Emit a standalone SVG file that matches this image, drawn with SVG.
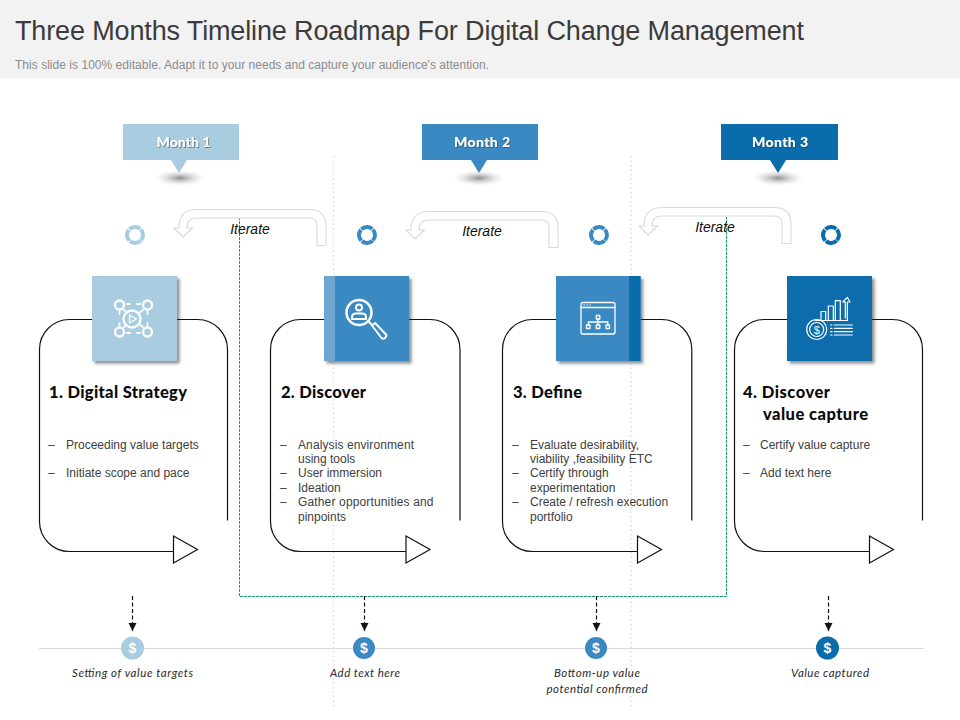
<svg xmlns="http://www.w3.org/2000/svg" width="960" height="720" viewBox="0 0 960 720">
<style>
.sans{font-family:"Liberation Sans",Arial,sans-serif}
.geo{font-family:Lato,"Open Sans",sans-serif}
.title{font-size:27px;fill:#3b3b3b}
.sub{font-size:12px;fill:#8c8c8c}
.month{font-size:14px;font-weight:900;fill:#fff;text-anchor:middle;filter:url(#ts)}
.iter{font-size:14px;font-style:italic;fill:#111;text-anchor:middle}
.card{fill:none;stroke:#111;stroke-width:1.2}
.tri{fill:#fff;stroke:#111;stroke-width:1.2}
.head{font-size:16.5px;font-weight:900;fill:#0b0b0b}
.body{font-size:12px;fill:#404040}
.cap{font-size:11.5px;font-style:italic;font-weight:400;fill:#2a2a2a;text-anchor:middle}
.dollar{font-size:14px;font-weight:700;fill:#fff;text-anchor:middle}
.ico{fill:none;stroke:#fff;stroke-linecap:round;stroke-linejoin:round}
.guide{stroke:#dcdcdc;stroke-width:1.4;stroke-dasharray:1.5 3;fill:none}
.iterarrow{fill:#fff;stroke:#d9d9d9;stroke-width:1.1}
.ring{fill:none;stroke-width:4;stroke-dasharray:11.700 .87}
.dash{stroke:#111;stroke-width:1.2;stroke-dasharray:4 2.5;marker-end:url(#ah);fill:none}
</style>
<defs>
<radialGradient id="sh"><stop offset="0" stop-color="#8f8f8f"/><stop offset="0.3" stop-color="#b0b0b0" stop-opacity=".8"/><stop offset="0.65" stop-color="#d0d0d0" stop-opacity=".45"/><stop offset="1" stop-color="#e8e8e8" stop-opacity="0"/></radialGradient>
<filter id="ts" x="-20%" y="-30%" width="140%" height="170%"><feDropShadow dx="0.8" dy="0.8" stdDeviation="0.6" flood-color="#333" flood-opacity=".65"/></filter>
<filter id="tileShadow" x="-10%" y="-10%" width="125%" height="125%"><feDropShadow dx="2.500" dy="2.500" stdDeviation="1.600" flood-color="#333" flood-opacity=".55"/></filter>
<marker id="ah" markerUnits="userSpaceOnUse" markerWidth="9" markerHeight="9" refX="8" refY="4" orient="auto"><path d="M0,0L8,4L0,8Z" fill="#111"/></marker>
<path id="iterShape" d="M326,245.500H317V226Q317,218 309,218H197Q187,218 187,228H192.500L183,237L174,228H179Q179,209.500 197,209.500H309Q326,209.500 326,226Z"/>
</defs>
<rect width="960" height="720" fill="#fff"/>
<g id="header">
<rect width="960" height="78" fill="#f2f2f2"/>
<text class="sans title" x="15" y="40" textLength="789" lengthAdjust="spacing">Three Months Timeline Roadmap For Digital Change Management</text>
<text class="sans sub" x="15" y="68.500" textLength="474" lengthAdjust="spacing">This slide is 100% editable. Adapt it to your needs and capture your audience's attention.</text>
</g>
<g id="guides">
<path class="guide" d="M333.500,156V708M631,156V708"/>
<path fill="none" stroke="#1f9a6a" stroke-width="1" stroke-dasharray="3 1" d="M239.500,217V596.500H726.500V217"/>
</g>
<g id="month-1">
<ellipse cx="180" cy="178" rx="26" ry="8" fill="url(#sh)"/>
<path d="M123,124H239V160H187L179,173L171,160H123Z" fill="#a9cce0"/>
<text class="geo month" x="183.500" y="147" textLength="54" lengthAdjust="spacing">Month 1</text>
</g>
<g id="month-2">
<ellipse cx="479" cy="178" rx="26" ry="8" fill="url(#sh)"/>
<path d="M422,124H538V160H487L479,173L471,160H422Z" fill="#3a89c2"/>
<text class="geo month" x="482" y="147" textLength="56" lengthAdjust="spacing">Month 2</text>
</g>
<g id="month-3">
<ellipse cx="778" cy="178" rx="26" ry="8" fill="url(#sh)"/>
<path d="M721,124H838V160H786L778,173L770,160H721Z" fill="#0a6cab"/>
<text class="geo month" x="780" y="147" textLength="56" lengthAdjust="spacing">Month 3</text>
</g>
<g id="rings">
<circle class="ring" cx="135" cy="235" r="8" stroke="#a9cce0" transform="rotate(45 135 235)"/>
<circle class="ring" cx="367" cy="235" r="8" stroke="#3a89c2" transform="rotate(45 367 235)"/>
<circle class="ring" cx="599" cy="235" r="8" stroke="#3a89c2" transform="rotate(45 599 235)"/>
<circle class="ring" cx="831" cy="235" r="8" stroke="#0a6cab" transform="rotate(45 831 235)"/>
</g>
<g id="connectors">
<use href="#iterShape" class="iterarrow"/>
<use href="#iterShape" class="iterarrow" x="232" y="2"/>
<use href="#iterShape" class="iterarrow" x="465" y="-2"/>
<path class="dash" d="M132.500,596V631"/>
<path class="dash" d="M364.500,596V631"/>
<path class="dash" d="M596.500,596V631"/>
<path class="dash" d="M828.500,596V631"/>
</g>
<g id="iterate-labels">
<text class="sans iter" x="250" y="234">Iterate</text>
<text class="sans iter" x="482" y="236">Iterate</text>
<text class="sans iter" x="715" y="232">Iterate</text>
</g>
<g id="card-1">
<path class="card" d="M227.500,520.500V349.500A30,30 0 0 0 197.500,319.500H69.500A30,30 0 0 0 39.500,349.500V521.500A30,30 0 0 0 69.500,551.500H174"/>
<path class="tri" d="M173.500,536L197.500,549.500L173.500,563Z"/>
<rect x="92" y="276" width="85" height="85" fill="#a9cce0" filter="url(#tileShadow)"/>
<g class="ico" stroke-width="2.300">
<circle cx="132" cy="319" r="8.500"/><path d="M129.500,315L136.500,319L129.500,323Z" stroke-width="1.300"/>
<circle cx="119.500" cy="305" r="4.500"/><circle cx="147.500" cy="305" r="4.500"/><circle cx="119.500" cy="332" r="4.500"/><circle cx="147.500" cy="332" r="4.500"/>
<path d="M127,304H130M137,304H140M127,333H130M137,333H140M119.500,311V314M147.500,311V314M119.500,323V326M147.500,323V326M124,310L126,312M143,310L139,313M124,327L126,325M143,327L139,324" stroke-width="1.800"/>
</g>
<text class="geo head" x="49" y="398" textLength="138" lengthAdjust="spacing">1. Digital Strategy</text>
<text class="sans body" x="48" y="449">–</text><text class="sans body" x="66" y="449">Proceeding value targets</text>
<text class="sans body" x="48" y="477">–</text><text class="sans body" x="66" y="477">Initiate scope and pace</text>
</g>
<g id="card-2">
<path class="card" d="M460,520.500V349.500A30,30 0 0 0 430,319.500H300.500A30,30 0 0 0 270.500,349.500V521.500A30,30 0 0 0 300.500,551.500H406"/>
<path class="tri" d="M406,536L430,549.500L406,563Z"/>
<rect x="324" y="276" width="85" height="85" fill="#3a89c2" filter="url(#tileShadow)"/>
<rect x="324" y="276" width="11" height="85" fill="#6ea6d0"/>
<g class="ico">
<circle cx="359" cy="312.500" r="12.500" stroke-width="2.500"/>
<circle cx="359" cy="307.500" r="3" stroke-width="2"/>
<path d="M352,319V317Q352,313.500 356,313.500H362Q366,313.500 366,317V319Z" stroke-width="2"/>
<path d="M369,322L372,325" stroke-width="2"/>
<path d="M372,325.500L375,323L386,334.500Q387,336 385,338Q383,339.500 381.500,338Z" stroke-width="2"/>
</g>
<text class="geo head" x="281" y="398" textLength="85" lengthAdjust="spacing">2. Discover</text>
<g class="sans body">
<text x="280" y="449">–</text><text x="298" y="449" textLength="116" lengthAdjust="spacing">Analysis environment</text>
<text x="298" y="463">using tools</text>
<text x="280" y="477">–</text><text x="298" y="477">User immersion</text>
<text x="280" y="492">–</text><text x="298" y="492">Ideation</text>
<text x="280" y="506">–</text><text x="298" y="506" textLength="135.500" lengthAdjust="spacing">Gather opportunities and</text>
<text x="298" y="521">pinpoints</text>
</g>
</g>
<g id="card-3">
<path class="card" d="M691.800,520.500V349.500A30,30 0 0 0 661.800,319.500H532.500A30,30 0 0 0 502.500,349.500V521.500A30,30 0 0 0 532.500,551.500H638"/>
<path class="tri" d="M637.500,536L661.500,549.500L637.500,563Z"/>
<rect x="556" y="276" width="84.500" height="85" fill="#3a89c2" filter="url(#tileShadow)"/>
<rect x="629" y="276" width="11.500" height="85" fill="#0a6cab"/>
<g class="ico" stroke-width="1.300">
<rect x="581" y="302.500" width="34" height="31.500" rx="2"/>
<path d="M581,307.500H615M584,305H584.100M587,305H587.100M590,305H590.100"/>
<rect x="596.300" y="315.500" width="3.500" height="3.500"/>
<rect x="586.500" y="325" width="3.500" height="3.500"/><rect x="596.300" y="325" width="3.500" height="3.500"/><rect x="606" y="325" width="3.500" height="3.500"/>
<path d="M598,319V325M588.300,325V322H607.800V325"/>
</g>
<text class="geo head" x="513" y="398" textLength="69" lengthAdjust="spacing">3. Define</text>
<g class="sans body">
<text x="512" y="449">–</text><text x="530" y="449">Evaluate desirability,</text>
<text x="530" y="463">viability ,feasibility ETC</text>
<text x="512" y="477">–</text><text x="530" y="477">Certify through</text>
<text x="530" y="492">experimentation</text>
<text x="512" y="506">–</text><text x="530" y="506">Create / refresh execution</text>
<text x="530" y="521">portfolio</text>
</g>
</g>
<g id="card-4">
<path class="card" d="M922.500,520.500V349.500A30,30 0 0 0 892.500,319.500H764.500A30,30 0 0 0 734.500,349.500V521.500A30,30 0 0 0 764.500,551.500H870"/>
<path class="tri" d="M869.500,536L893.500,549.500L869.500,563Z"/>
<rect x="787" y="276" width="85" height="85" fill="#0a6cab" filter="url(#tileShadow)"/>
<g class="ico" stroke-width="1.200">
<path d="M821,320V311.500H825.700V320M828.300,320V306H833.300V320M835.300,320V300.700H840.300V320"/>
<path d="M815,320.500H847.300V302H850L847.300,297.300L842.800,302H845.300V318"/>
<circle cx="816.700" cy="329.500" r="10"/><circle cx="816.700" cy="329.500" r="7"/>
<path d="M834.300,325H852.300M834.300,328.300H852.300M834.300,331.700H852.300M834.300,335H852.300M830.500,325H832M830.500,328.300H832M830.500,331.700H832M830.500,335H832"/>
</g>
<text class="sans" x="816.700" y="333.500" font-size="11" fill="#fff" text-anchor="middle">$</text>
<text class="geo head" x="743" y="398" textLength="87" lengthAdjust="spacing">4. Discover</text>
<text class="geo head" x="763" y="420" textLength="105" lengthAdjust="spacing">value capture</text>
<text class="sans body" x="743" y="449">–</text><text class="sans body" x="760" y="449">Certify value capture</text>
<text class="sans body" x="743" y="477">–</text><text class="sans body" x="760" y="477">Add text here</text>
</g>
<g id="timeline">
<path d="M39,648.500H924" stroke="#d9d9d9" stroke-width="1"/>
<g id="milestone-1"><circle cx="132.500" cy="648" r="11.500" fill="#a9cce0"/><text class="sans dollar" x="132.500" y="653">$</text><text class="geo cap" x="132.500" y="677" textLength="121" lengthAdjust="spacing">Setting of value targets</text></g>
<g id="milestone-2"><circle cx="364" cy="648" r="11" fill="#3a89c2"/><text class="sans dollar" x="364" y="653">$</text><text class="geo cap" x="365" y="677" textLength="70" lengthAdjust="spacing">Add text here</text></g>
<g id="milestone-3"><circle cx="596" cy="648" r="11" fill="#3a89c2"/><text class="sans dollar" x="596" y="653">$</text><text class="geo cap" x="597" y="677" textLength="86" lengthAdjust="spacing">Bottom-up value</text><text class="geo cap" x="597" y="693" textLength="101" lengthAdjust="spacing">potential confirmed</text></g>
<g id="milestone-4"><circle cx="827.500" cy="648" r="11.500" fill="#0a6cab"/><text class="sans dollar" x="827.500" y="653">$</text><text class="geo cap" x="830" y="677" textLength="78" lengthAdjust="spacing">Value captured</text></g>
</g>
</svg>
